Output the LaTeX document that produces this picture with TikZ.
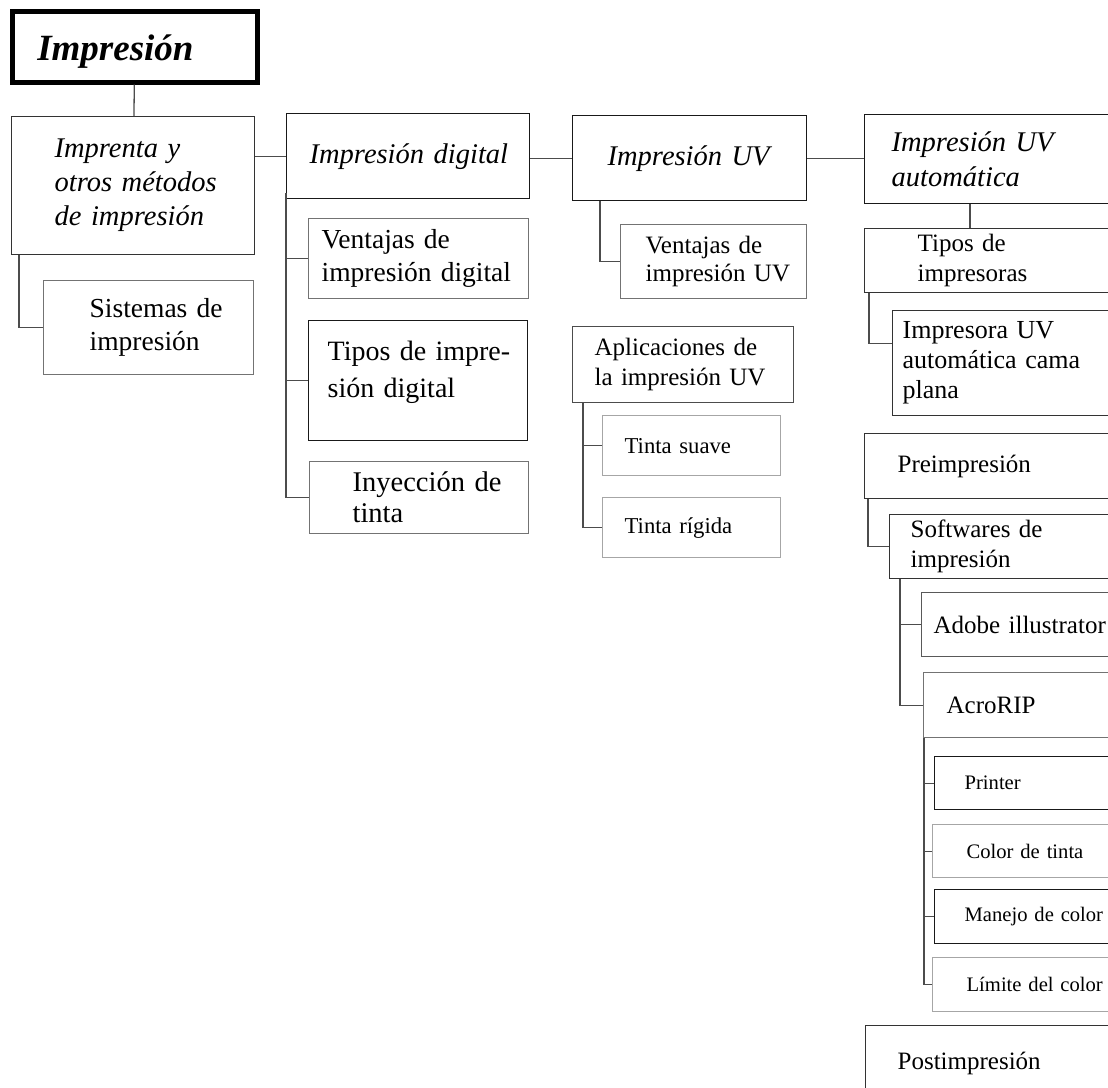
\documentclass[tikz,border=0pt]{standalone}
\usepackage{fontspec}
\setmainfont{Liberation Serif}
\usetikzlibrary{positioning,calc}

\tikzset{
  box/.style n args={4}{rectangle, draw=black!80, line width=1.3pt, anchor=north west,
    align=left, inner sep=0pt, minimum width=#1, minimum height=#2, text width=#1,
    execute at begin node={\leftskip=#3\relax}, font=#4},
  midline/.style={draw=black!55},
  paleline/.style={draw=black!35},
  conn/.style={draw=black!70, line width=1.3pt},
}
\newcommand{\headtxt}{\fontsize{28.5}{34}\selectfont\itshape}
\newcommand{\bigtxt}{\fontsize{27.5}{33}\selectfont}
\newcommand{\medtxt}{\fontsize{25}{30}\selectfont}
\newcommand{\smltxt}{\fontsize{22.7}{27}\selectfont}
\newcommand{\tnytxt}{\fontsize{20.6}{25}\selectfont}

\begin{document}
\begin{tikzpicture}[x=1pt, y=-1pt]
\useasboundingbox (0,0) rectangle (1108,1087);

% first column
\node[box={245pt}{71pt}{25pt}{\fontsize{37}{44}\selectfont\bfseries\itshape}, draw=black, line width=4.5pt] (imp) at (10,9) {\rule{0pt}{36pt}Impresión};
\node[box={243pt}{138pt}{43pt}{\headtxt}] (impr) at (11,116) {Imprenta y\\otros métodos\\de impresión};
\node[box={210pt}{94pt}{46pt}{\bigtxt}, midline] (sist) at (43,280) {Sistemas de\\impresión};

% second column
\node[box={243pt}{85pt}{23pt}{\headtxt}, draw=black!90] (dig) at (286,113) {Impresión digital};
\node[box={220pt}{80pt}{13pt}{\bigtxt}, midline] (vdig) at (308,218) {Ventajas de\\impresión digital};
\node[box={219pt}{120pt}{19pt}{\fontsize{28}{37}\selectfont}, draw=black!90] (tdig) at (308,320) {Tipos de impre-\\sión digital\rule[-22pt]{0pt}{22pt}};
\node[box={219pt}{72pt}{43pt}{\fontsize{28.5}{31}\selectfont}, midline] (inye) at (309,461) {Inyección de\\tinta};

% third column
\node[box={234pt}{85pt}{35pt}{\headtxt}, draw=black!90] (uv) at (572,115) {Impresión UV};
\node[box={186pt}{74pt}{25pt}{\fontsize{25}{28}\selectfont}, midline] (vuv) at (620,224) {Ventajas de\\impresión UV};
\node[box={221pt}{76pt}{22pt}{\medtxt}, draw=black!70] (apli) at (572,326) {Aplicaciones de\\la impresión UV};
\node[box={178pt}{60pt}{22pt}{\smltxt}, paleline] (tsua) at (602,415) {Tinta suave};
\node[box={178pt}{60pt}{22pt}{\smltxt}, paleline] (trig) at (602,497) {Tinta rígida};

% fourth column
\node[box={266pt}{89pt}{27pt}{\fontsize{28.5}{35}\selectfont\itshape}, draw=black!90] (auto) at (864,114) {Impresión UV\\automática};
\node[box={266pt}{64pt}{53pt}{\medtxt}] (timp) at (864,228) {Tipos de\\impresoras};
\node[box={238pt}{105pt}{10pt}{\fontsize{26}{30}\selectfont}] (iuv) at (892,310) {Impresora UV\\automática cama\\plana};
\node[box={266pt}{65pt}{33pt}{\medtxt}] (pre) at (864,433) {Preimpresión};
\node[box={241pt}{64pt}{21pt}{\medtxt}] (soft) at (889,514) {Softwares de\\impresión};
\node[box={209pt}{64pt}{12pt}{\medtxt}, draw=black!65] (adobe) at (921,592) {Adobe illustrator};
\node[box={207pt}{65pt}{23pt}{\medtxt}, midline] (acro) at (923,672) {AcroRIP};
\node[box={196pt}{53pt}{30pt}{\tnytxt}, draw=black!90] (prin) at (934,756) {Printer};
\node[box={198pt}{53pt}{34pt}{\tnytxt}, paleline] (ctin) at (932,824) {Color de tinta};
\node[box={196pt}{54pt}{30pt}{\tnytxt}, draw=black!90] (mane) at (934,889) {Manejo de color};
\node[box={198pt}{54pt}{34pt}{\tnytxt}, paleline] (limi) at (932,957) {Límite del color};
\node[box={265pt}{75pt}{32pt}{\medtxt}] (post) at (865,1025) {Postimpresión};

% links
\draw[conn] (imp) -- (impr);
\draw[conn] (dig.west) -- (dig.west -| impr.east);
\draw[conn] ([xshift=8pt]impr.south west) |- (sist.west);
\draw[conn] (uv.west) -- (uv.west -| dig.east);
\draw[conn] (uv.east) -- (uv.east -| auto.west);

\draw[conn] ([yshift=6pt]dig.south west) |- (inye.west);
\foreach \n in {vdig,tdig}
  \draw[conn] (\n.west) -- (\n.west -| dig.west);

\draw[conn] ([xshift=28pt]uv.south west) |- (vuv.west);
\coordinate (apliT) at ([xshift=11pt]apli.south west);
\draw[conn] (apliT) |- (trig.west);
\draw[conn] (tsua.west) -- (tsua.west -| apliT);

\draw[conn] ([xshift=106pt]auto.south west) -- ([xshift=106pt]timp.north west);
\draw[conn] ([xshift=5pt]timp.south west) |- ([yshift=20pt]iuv.west);
\draw[conn] ([xshift=4pt]pre.south west) |- (soft.west);
\coordinate (softT) at ([xshift=11pt]soft.south west);
\draw[conn] (softT) |- (acro.west);
\draw[conn] (adobe.west) -- (adobe.west -| softT);
\coordinate (acroT) at ([xshift=1pt]acro.south west);
\draw[conn] (acroT) |- (limi.west);
\foreach \n in {prin,ctin,mane}
  \draw[conn] (\n.west) -- (\n.west -| acroT);
\end{tikzpicture}
\end{document}
